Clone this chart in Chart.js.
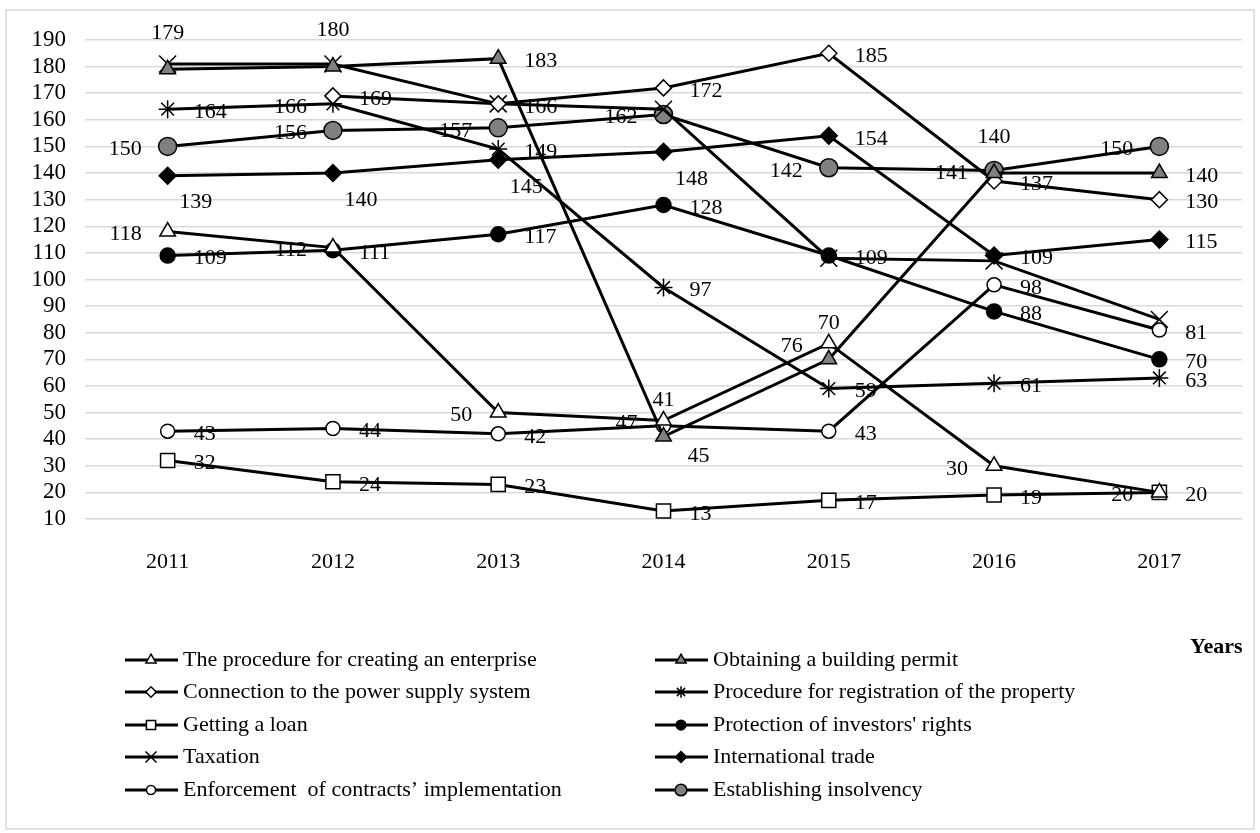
<!DOCTYPE html>
<html>
<head>
<meta charset="utf-8">
<script src="https://cdn.jsdelivr.net/npm/chart.js"></script>
<style>
  html, body { margin: 0; padding: 0; background: #fff; }
  canvas { display: block; }
</style>
</head>
<body>
<canvas id="chart" width="1260" height="833"></canvas>
<script>
// years on the x axis
const years = ['2011', '2012', '2013', '2014', '2015', '2016', '2017'];

// rank per indicator
const creatingEnterprise = [118, 112, 50, 47, 76, 30, 20];
const buildingPermit     = [179, 180, 183, 41, 70, 140, 140];
const powerSupply        = [null, 169, 166, 172, 185, 137, 130];
const propertyRegistr    = [164, 166, 149, 97, 59, 61, 63];
const gettingLoan        = [32, 24, 23, 13, 17, 19, 20];
const investorsRights    = [109, 111, 117, 128, 109, 88, 70];
const taxation           = [181, 181, 166, 164, 108, 107, 85];
const internationalTrade = [139, 140, 145, 148, 154, 109, 115];
const contractsEnforce   = [43, 44, 42, 45, 43, 98, 81];
const insolvency         = [150, 156, 157, 162, 142, 141, 150];

const yTicks = { min: 10, max: 190, step: 10 };

const FONT = '"Liberation Serif", "Times New Roman", serif';
const GREY = '#808080';

// where each value label sits: r = right, l = left, t = top, b = below, '' = no label
const series = [
  { name: 'The procedure for creating an enterprise', data: creatingEnterprise, style: 'triangle', fill: '#fff', r: 9,
    lab: ['l','l','l','l','l','l','l'] },
  { name: 'Obtaining a building permit', data: buildingPermit, style: 'triangle', fill: GREY, r: 9,
    lab: ['t','t','r','t','t','t','r'] },
  { name: 'Connection to the power supply system', data: powerSupply, style: 'rectRot', fill: '#fff', r: 8,
    lab: ['','r','r','r','r','r','r'] },
  { name: 'Procedure for registration of the property', data: propertyRegistr, style: 'star', fill: '#000', r: 9,
    lab: ['r','l','r','r','r','r','r'] },
  { name: 'Getting a loan', data: gettingLoan, style: 'rect', fill: '#fff', r: 10,
    lab: ['r','r','r','r','r','r','r'] },
  { name: "Protection of investors' rights", data: investorsRights, style: 'circle', fill: '#000', r: 7.5,
    lab: ['r','r','r','r','r','r','r'] },
  { name: 'Taxation', data: taxation, style: 'crossRot', fill: '#000', r: 12,
    lab: ['','','','','','',''] },
  { name: 'International trade', data: internationalTrade, style: 'rectRot', fill: '#000', r: 8.5,
    lab: ['b','b','b','b','r','r','r'] },
  { name: 'Enforcement  of contracts\u2019 implementation', data: contractsEnforce, style: 'circle', fill: '#fff', r: 7,
    lab: ['r','r','r','br','r','r','r'] },
  { name: 'Establishing insolvency', data: insolvency, style: 'circle', fill: GREY, r: 9,
    lab: ['l','l','l','l','l','l','l'] }
];

const labelOffsets = {
  r:  { dx: 26,  dy: 3,   align: 'left' },
  l:  { dx: -26, dy: 3,   align: 'right' },
  t:  { dx: 0,   dy: -36, align: 'center' },
  b:  { dx: 28,  dy: 27,  align: 'center' },
  br: { dx: 35,  dy: 30,  align: 'center' }
};

const bgPlugin = {
  id: 'bg',
  beforeDraw(chart) {
    const ctx = chart.ctx;
    ctx.save();
    ctx.fillStyle = '#fff';
    ctx.fillRect(0, 0, chart.width, chart.height);
    ctx.strokeStyle = '#d9d9d9';
    ctx.lineWidth = 1.5;
    ctx.strokeRect(6, 10, chart.width - 12, chart.height - 14);
    ctx.restore();
  }
};

const valueLabels = {
  id: 'valueLabels',
  afterDatasetsDraw(chart) {
    const ctx = chart.ctx;
    ctx.save();
    ctx.font = '22px ' + FONT;
    ctx.fillStyle = '#000';
    ctx.textBaseline = 'middle';
    chart.data.datasets.forEach((ds, i) => {
      const meta = chart.getDatasetMeta(i);
      meta.data.forEach((pt, j) => {
        const v = ds.data[j];
        const code = series[i].lab[j];
        if (v == null || !code) return;
        const o = labelOffsets[code];
        ctx.textAlign = o.align;
        ctx.fillText(String(v), pt.x + o.dx, pt.y + o.dy);
      });
    });
    ctx.restore();
  }
};

function marker(ctx, s, x, y, scale) {
  ctx.fillStyle = s.fill;
  ctx.strokeStyle = '#000';
  ctx.lineWidth = 1.5;
  Chart.helpers.drawPoint(ctx, { pointStyle: s.style, radius: s.r * scale, rotation: 0, borderWidth: 1.5 }, x, y);
}

const legendPlugin = {
  id: 'customLegend',
  afterDraw(chart) {
    const ctx = chart.ctx;
    ctx.save();
    const rows = [660, 692, 725, 757, 790];
    const cols = [125, 655];
    series.forEach((s, i) => {
      const x = cols[i % 2];
      const y = rows[Math.floor(i / 2)];
      ctx.strokeStyle = '#000';
      ctx.lineWidth = 3;
      ctx.beginPath();
      ctx.moveTo(x, y);
      ctx.lineTo(x + 53, y);
      ctx.stroke();
      marker(ctx, s, x + 26, y, 0.65);
      ctx.fillStyle = '#000';
      ctx.font = '22px ' + FONT;
      ctx.textAlign = 'left';
      ctx.textBaseline = 'middle';
      ctx.fillText(s.name, x + 58, y);
    });
    ctx.font = 'bold 22px ' + FONT;
    ctx.textAlign = 'left';
    ctx.textBaseline = 'middle';
    ctx.fillText('Years', 1190, 647);
    ctx.restore();
  }
};

new Chart(document.getElementById('chart'), {
  type: 'line',
  data: {
    labels: years,
    datasets: series.map(s => ({
      label: s.name,
      data: s.data,
      borderColor: '#000',
      borderWidth: 3,
      tension: 0,
      spanGaps: false,
      pointStyle: s.style,
      pointRadius: s.r,
      pointHoverRadius: s.r,
      pointBackgroundColor: s.fill,
      pointBorderColor: '#000',
      pointBorderWidth: 1.5
    }))
  },
  options: {
    responsive: false,
    animation: false,
    devicePixelRatio: 1,
    layout: { padding: { top: 40, right: 18, left: 0, bottom: 0 } },
    plugins: {
      legend: { display: false },
      tooltip: { enabled: false }
    },
    scales: {
      x: {
        offset: true,
        grid: { display: false },
        border: { display: false },
        ticks: { color: '#000', font: { family: FONT, size: 22 }, padding: 22, autoSkip: false },
        afterFit(scale) { scale.height = 314; }
      },
      y: {
        min: yTicks.min,
        max: yTicks.max,
        grid: { color: '#d9d9d9', lineWidth: 1.5, drawTicks: false },
        border: { display: false },
        ticks: { stepSize: yTicks.step, color: '#000', font: { family: FONT, size: 23, lineHeight: 1 }, padding: 19, autoSkip: false },
        afterFit(scale) { scale.width = 85; }
      }
    }
  },
  plugins: [bgPlugin, valueLabels, legendPlugin]
});
</script>
</body>
</html>
